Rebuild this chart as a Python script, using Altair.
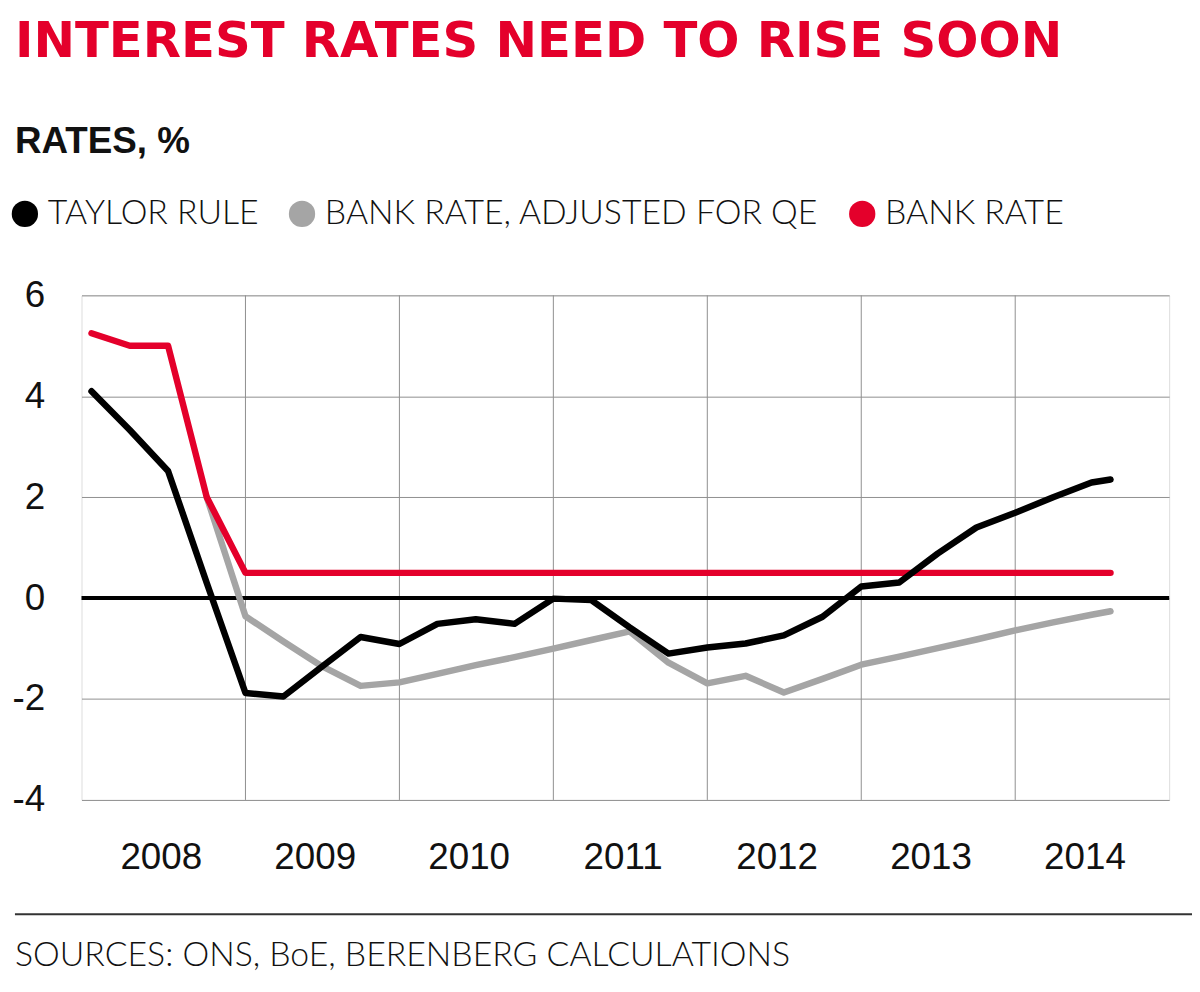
import altair as alt
import pandas as pd
from datetime import date

# ---------------- data ----------------
dates = [
    "2008-01-01", "2008-04-01", "2008-07-01", "2008-10-01",
    "2009-01-01", "2009-04-01", "2009-07-01", "2009-10-01",
    "2010-01-01", "2010-04-01", "2010-07-01", "2010-10-01",
    "2011-01-01", "2011-04-01", "2011-07-01", "2011-10-01",
    "2012-01-01", "2012-04-01", "2012-07-01", "2012-10-01",
    "2013-01-01", "2013-04-01", "2013-07-01", "2013-10-01",
    "2014-01-01", "2014-04-01", "2014-07-01", "2014-08-15",
]
taylor_rule = [
    4.10, 3.33, 2.52, 0.30,
    -1.88, -1.95, -1.36, -0.77,
    -0.91, -0.51, -0.42, -0.51,
    -0.01, -0.04, -0.58, -1.10,
    -0.98, -0.90, -0.74, -0.37,
    0.23, 0.31, 0.88, 1.40,
    1.69, 2.00, 2.29, 2.35,
]
bank_rate_qe = [
    None, None, None, 2.00,
    -0.36, -0.86, -1.35, -1.74,
    -1.67, -1.50, -1.33, -1.17,
    -1.00, -0.83, -0.66, -1.28,
    -1.69, -1.54, -1.87, -1.60,
    -1.32, -1.16, -0.99, -0.82,
    -0.64, -0.48, -0.33, -0.26,
]
bank_rate = [
    5.25, 5.00, 5.00, 2.00,
    0.50, 0.50, 0.50, 0.50,
    0.50, 0.50, 0.50, 0.50,
    0.50, 0.50, 0.50, 0.50,
    0.50, 0.50, 0.50, 0.50,
    0.50, 0.50, 0.50, 0.50,
    0.50, 0.50, 0.50, 0.50,
]
series_names = ["TAYLOR RULE", "BANK RATE, ADJUSTED FOR QE", "BANK RATE"]
series_colors = ["#000000", "#a5a5a5", "#e4002b"]
label_years = [2008, 2009, 2010, 2011, 2012, 2013, 2014]
grid_years = [2009, 2010, 2011, 2012, 2013, 2014]
y_ticks = [-4, -2, 0, 2, 4, 6]
zero_line = [0]

TITLE = "INTEREST RATES NEED TO RISE SOON"
SUBTITLE = "RATES, %"
SOURCE = "SOURCES: ONS, BoE, BERENBERG CALCULATIONS"


def decimal_year(s):
    y, m, d = map(int, s.split("-"))
    start = date(y, 1, 1)
    return y + (date(y, m, d) - start).days / (date(y + 1, 1, 1) - start).days


rows = []
for name, vals in zip(series_names, [taylor_rule, bank_rate_qe, bank_rate]):
    for dt, v in zip(dates, vals):
        if v is not None:
            rows.append({"t": decimal_year(dt), "value": v, "series": name})
df = pd.DataFrame(rows)
color_of = dict(zip(series_names, series_colors))

COND = "Liberation Sans Narrow, Liberation Sans, Arial, sans-serif"
LIGHT = "Lato"
GRID = "#8f8f8f"

xscale = alt.Scale(domain=[2007.935, 2015.0], nice=False, zero=False)
yscale = alt.Scale(domain=[-4, 6], nice=False, zero=False)
fill_scale = alt.Scale(domain=series_names, range=series_colors)

x_axis = alt.Axis(
    values=[y + 0.45 for y in label_years],
    labelExpr="format(floor(datum.value), 'd')",
    grid=False, ticks=False, tickSize=0, domain=False, title=None,
    labelFont=COND, labelFontSize=37, labelColor="#111111",
    labelPadding=40, labelFlush=False, labelOverlap=False,
)
y_axis = alt.Axis(
    values=y_ticks, grid=True, gridColor=GRID, gridWidth=1,
    ticks=False, tickSize=0, domain=False, title=None,
    labelExpr="(datum.value < 0 ? '-' : '') + format(abs(datum.value), 'd')",
    labelFont=COND, labelFontSize=37, labelColor="#111111",
    labelPadding=37, labelFlush=False, labelOverlap=False,
)

vgrid = alt.Chart(pd.DataFrame({"g": grid_years})).mark_rule(
    color=GRID, strokeWidth=1
).encode(x=alt.X("g:Q", scale=xscale, axis=x_axis))

zero = alt.Chart(pd.DataFrame({"z": zero_line})).mark_rule(
    color="#000000", strokeWidth=4
).encode(y=alt.Y("z:Q", scale=yscale, axis=y_axis))


def line_layer(name):
    return alt.Chart(df).transform_filter(
        alt.datum.series == name
    ).mark_line(
        strokeWidth=6.5, strokeCap="round", strokeJoin="round", color=color_of[name]
    ).encode(
        x=alt.X("t:Q", scale=xscale, axis=x_axis),
        y=alt.Y("value:Q", scale=yscale, axis=y_axis),
    )


legend_layer = alt.Chart(pd.DataFrame({"series": series_names})).transform_filter(
    "false"
).mark_circle(opacity=1).encode(
    fill=alt.Fill(
        "series:N", scale=fill_scale, sort=series_names,
        legend=alt.Legend(
            title=None, orient="none", legendX=-74, legendY=-99,
            direction="horizontal", symbolType="circle", symbolSize=700,
            symbolStrokeWidth=0, symbolOpacity=1,
            labelFont=LIGHT, labelFontSize=34, labelFontWeight=300,
            labelColor="#111111", labelOffset=6, columnPadding=26,
            labelLimit=800,
        ),
    )
)

separator = alt.Chart(pd.DataFrame({"a": [0]})).mark_rule(
    color="#333333", strokeWidth=2
).encode(x=alt.value(-67), x2=alt.value(1118), y=alt.value(623))

source = alt.Chart(pd.DataFrame({"s": [SOURCE]})).mark_text(
    align="left", baseline="middle", font=LIGHT, fontSize=34,
    fontWeight=300, color="#111111"
).encode(x=alt.value(-67), y=alt.value(665), text="s:N")

chart = alt.layer(
    vgrid, zero,
    line_layer("BANK RATE, ADJUSTED FOR QE"),
    line_layer("BANK RATE"),
    line_layer("TAYLOR RULE"),
    legend_layer, separator, source,
).properties(
    width=1095, height=508,
    title=alt.TitleParams(
        text=TITLE, subtitle=SUBTITLE, anchor="start", frame="group",
        dx=-67, font="DejaVu Sans", fontSize=50, fontWeight="bold", color="#e4002b",
        subtitleFont=COND, subtitleFontSize=37, subtitleFontWeight="bold",
        subtitleColor="#111111", subtitlePadding=58, offset=37,
    ),
    padding={"left": 74, "top": 286, "right": 23, "bottom": 180},
    autosize=alt.AutoSizeParams(type="none"),
).configure_view(
    stroke=GRID, strokeWidth=1
).configure(background="white")

chart.save("out.html", embed_options={"renderer": "svg", "actions": False})
